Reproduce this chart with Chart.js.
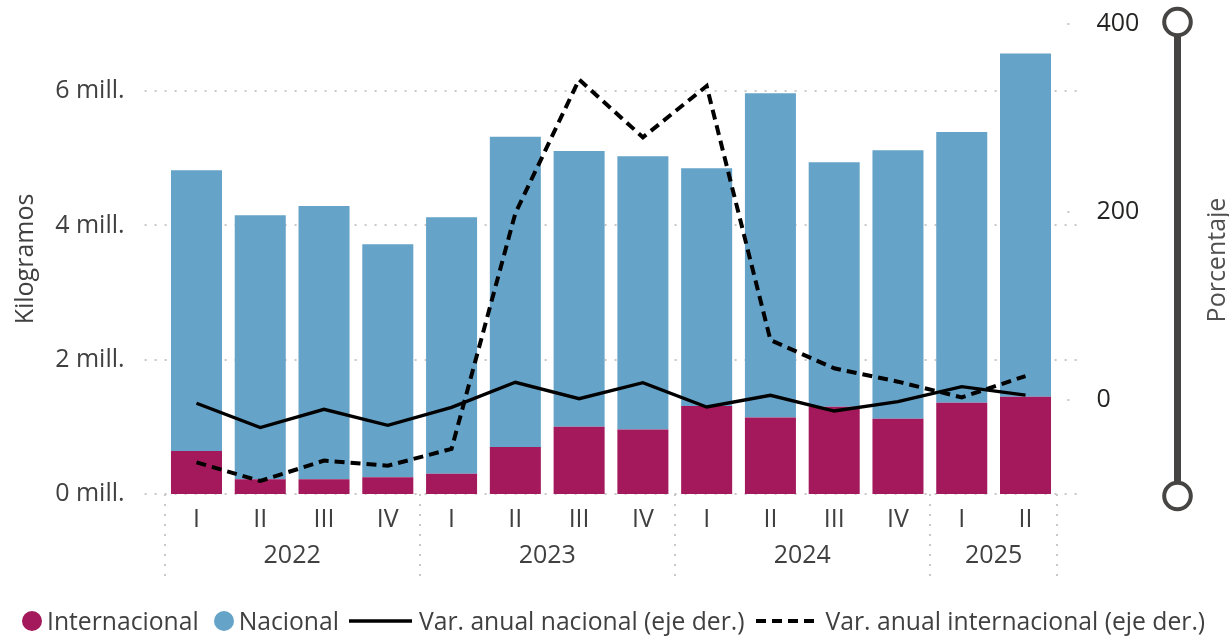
<!DOCTYPE html>
<html>
<head>
<meta charset="utf-8">
<title>Kilogramos por trimestre</title>
<script src="https://cdn.jsdelivr.net/npm/chart.js@4.4.1/dist/chart.umd.min.js"></script>
<style>
  html, body { margin: 0; padding: 0; background: #fff; }
  #wrap { position: relative; width: 1229px; height: 637px; }
  #legend {
    position: absolute; left: 22px; top: 606px; height: 30px;
    display: flex; align-items: center; white-space: nowrap;
    font: 24.7px 'Open Sans', sans-serif; line-height: 30px; color: #404040;
  }
  #legend .dot { width: 20px; height: 20px; border-radius: 50%; margin-right: 5px; }
  #legend svg { margin-right: 7px; }
  #legend .item { display: flex; align-items: center; }
</style>
</head>
<body>
<div id="wrap">
  <canvas id="chart"></canvas>
  <div id="legend"></div>
</div>
<script>
// quarters on the x axis, grouped by year
const quarters = ['I', 'II', 'III', 'IV', 'I', 'II', 'III', 'IV', 'I', 'II', 'III', 'IV', 'I', 'II'];
const yearLabels = ['2022', '2023', '2024', '2025'];
const quartersPerYear = [4, 4, 4, 2];

// kilograms (left axis)
const internacional = [640000, 220000, 220000, 250000, 300000, 700000, 1000000, 960000, 1310000, 1140000, 1300000, 1120000, 1360000, 1450000];
const nacional = [4180000, 3930000, 4070000, 3470000, 3820000, 4620000, 4110000, 4070000, 3540000, 4830000, 3640000, 4000000, 4030000, 5110000];

// annual change, percent (right axis)
const varNacional = [-3.5, -29.4, -9.9, -27, -7.8, 18.8, 1.4, 18.4, -7.4, 5, -11.7, -1.8, 14.2, 5.3];
const varInternacional = [-66.3, -86.2, -64.5, -69.9, -52, 198.6, 341, 279.5, 334, 63.8, 33.7, 19.5, 2.8, 25.5];

const leftTicks = [0, 2000000, 4000000, 6000000];
const rightTicks = [0, 200, 400];

const colInter = '#A3195B';
const colNac = '#65A3C8';
const textCol = '#404040';

Chart.defaults.font.family = "'Open Sans', sans-serif";
Chart.defaults.font.size = 25;
Chart.defaults.color = textCol;

// dotted grid, year separators and year labels
const decorPlugin = {
  id: 'decor',
  beforeDatasetsDraw(chart) {
    const { ctx, chartArea, scales: { x, y, y1 } } = chart;
    ctx.save();
    ctx.strokeStyle = '#c8c8c8';
    ctx.lineWidth = 2;
    ctx.setLineDash([2, 8]);
    const line = (x0, y0, x1, y1_) => {
      ctx.beginPath(); ctx.moveTo(x0, y0); ctx.lineTo(x1, y1_); ctx.stroke();
    };
    leftTicks.forEach(v => {
      const py = Math.round(y.getPixelForValue(v));
      line(chartArea.left - 20, py, chartArea.right + 20, py);
    });
    rightTicks.forEach(v => {
      const py = Math.round(y1.getPixelForValue(v));
      line(chartArea.right + 10, py, chartArea.right + 20, py);
    });

    // year groups
    const half = (x.getPixelForValue(1) - x.getPixelForValue(0)) / 2;
    let idx = 0;
    const bounds = [x.getPixelForValue(0) - half];
    ctx.setLineDash([]);
    ctx.fillStyle = textCol;
    ctx.font = "25px 'Open Sans', sans-serif";
    ctx.textAlign = 'center';
    ctx.textBaseline = 'middle';
    yearLabels.forEach((yr, k) => {
      const first = x.getPixelForValue(idx);
      const last = x.getPixelForValue(idx + quartersPerYear[k] - 1);
      ctx.fillText(yr, (first + last) / 2, chartArea.bottom + 62);
      idx += quartersPerYear[k];
      bounds.push(last + half);
    });
    ctx.setLineDash([2, 8]);
    bounds.forEach(bx => line(Math.round(bx), chartArea.bottom, Math.round(bx), chartArea.bottom + 82));
    ctx.restore();
  },
  afterDraw(chart) {
    const { ctx } = chart;
    ctx.save();
    // right axis title, read bottom to top
    ctx.translate(1218, 260);
    ctx.rotate(-Math.PI / 2);
    ctx.fillStyle = '#505050';
    ctx.font = "25px 'Open Sans', sans-serif";
    ctx.textAlign = 'center';
    ctx.textBaseline = 'middle';
    ctx.fillText('Porcentaje', 0, 0);
    ctx.restore();

    // range slider on the far right
    ctx.save();
    ctx.fillStyle = '#464544';
    ctx.fillRect(1174, 36, 7, 446);
    ctx.strokeStyle = '#464544';
    ctx.lineWidth = 4;
    [22, 496].forEach(cy => {
      ctx.beginPath();
      ctx.arc(1177.5, cy, 13.3, 0, Math.PI * 2);
      ctx.fillStyle = '#fff';
      ctx.fill();
      ctx.stroke();
    });
    ctx.restore();
  }
};

const chart = new Chart(document.getElementById('chart'), {
  data: {
    labels: quarters,
    datasets: [
      { type: 'line', label: 'Var. anual nacional (eje der.)', data: varNacional, yAxisID: 'y1',
        borderColor: '#000', borderWidth: 3.3, pointRadius: 0, tension: 0, order: 0 },
      { type: 'line', label: 'Var. anual internacional (eje der.)', data: varInternacional, yAxisID: 'y1',
        borderColor: '#000', borderWidth: 4, borderDash: [10, 6], pointRadius: 0, tension: 0, order: 0 },
      { type: 'bar', label: 'Internacional', data: internacional, yAxisID: 'y',
        backgroundColor: colInter, barPercentage: 0.8, categoryPercentage: 1, order: 1 },
      { type: 'bar', label: 'Nacional', data: nacional, yAxisID: 'y',
        backgroundColor: colNac, barPercentage: 0.8, categoryPercentage: 1, order: 1 }
    ]
  },
  options: {
    responsive: true,
    maintainAspectRatio: false,
    animation: false,
    layout: { padding: { top: 24, left: 0, right: 0, bottom: 0 } },
    plugins: { legend: { display: false }, tooltip: { enabled: false } },
    scales: {
      x: {
        stacked: true,
        grid: { display: false, drawTicks: false },
        border: { display: false },
        ticks: { padding: 11, color: textCol },
        afterFit(scale) { scale.height = 143; }
      },
      y: {
        position: 'left',
        stacked: true,
        min: 0, max: 7000000,
        // tickLength only pushes the labels away from the plot, marks are hidden
        grid: { display: false, drawTicks: true, tickLength: 40 },
        border: { display: false },
        title: { display: true, text: 'Kilogramos', color: textCol, padding: { top: 11, bottom: 0 } },
        ticks: { padding: 0, color: textCol, callback: v => (v / 1000000) + ' mill.' },
        afterBuildTicks(scale) { scale.ticks = leftTicks.map(v => ({ value: v })); },
        afterFit(scale) { scale.width = 164.6; }
      },
      y1: {
        position: 'right',
        min: -100, max: 400,
        grid: { display: false, drawTicks: true, tickLength: 39 },
        border: { display: false },
        ticks: { padding: 0, color: '#252423' },
        afterBuildTicks(scale) { scale.ticks = rightTicks.map(v => ({ value: v })); },
        afterFit(scale) { scale.width = 171.6; }
      }
    }
  },
  plugins: [decorPlugin]
});

// html legend built from the datasets
const legend = document.getElementById('legend');
const order = [2, 3, 0, 1];
const gaps = [15, 10, 11, 0];
order.forEach((di, k) => {
  const ds = chart.data.datasets[di];
  const item = document.createElement('div');
  item.className = 'item';
  item.style.marginRight = gaps[k] + 'px';
  if (ds.type === 'bar') {
    const d = document.createElement('span');
    d.className = 'dot';
    d.style.background = ds.backgroundColor;
    item.appendChild(d);
  } else {
    const dash = ds.borderDash ? 'stroke-dasharray="10 6"' : '';
    item.insertAdjacentHTML('beforeend',
      '<svg width="63" height="6"><line x1="0" y1="3" x2="63" y2="3" stroke="#000" stroke-width="' + ds.borderWidth + '" ' + dash + '/></svg>');
  }
  const t = document.createElement('span');
  t.textContent = ds.label;
  item.appendChild(t);
  legend.appendChild(item);
});
</script>
</body>
</html>
